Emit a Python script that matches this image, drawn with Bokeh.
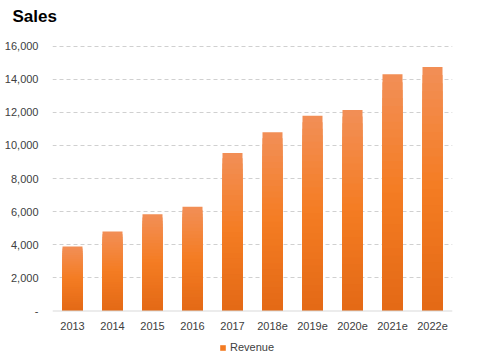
from bokeh.plotting import figure
from bokeh.models import (ColumnDataSource, Range1d, FixedTicker, NumeralTickFormatter,
                          Legend, LegendItem, FactorRange, Span, Title)
from bokeh.core.properties import value
from bokeh.embed import file_html
from bokeh.resources import INLINE

# ---- data ----
years = ["2013", "2014", "2015", "2016", "2017", "2018e", "2019e", "2020e", "2021e", "2022e"]
revenue = [3900, 4800, 5850, 6300, 9550, 10800, 11800, 12150, 14300, 14750]
y_ticks = [0, 2000, 4000, 6000, 8000, 10000, 12000, 14000, 16000]
title_text = "Sales"
series_name = "Revenue"

# gradient stops (bottom -> mid -> top)
c_bottom = (0xE3, 0x69, 0x16)
c_mid = (0xF4, 0x7C, 0x22)
c_top = (0xF2, 0x8F, 0x57)
N_SEG = 30


def grad_color(t):
    if t < 0.5:
        a, b, f = c_bottom, c_mid, t / 0.5
    else:
        a, b, f = c_mid, c_top, (t - 0.5) / 0.5
    r, g, bl = (int(round(a[i] + (b[i] - a[i]) * f)) for i in range(3))
    return "#%02x%02x%02x" % (r, g, bl)


# overlapping layers: full bar (top colour) first, shorter bars (darker) on top
xs, tops, cols = [], [], []
for k in range(N_SEG):
    frac = (N_SEG - k) / N_SEG
    for yr, v in zip(years, revenue):
        xs.append(yr)
        tops.append(v * frac)
        cols.append(grad_color((N_SEG - k - 0.5) / N_SEG))
src = ColumnDataSource(dict(x=xs, top=tops, color=cols))

# the frame also holds the category labels and legend below the zero line
p = figure(x_range=FactorRange(*years), y_range=Range1d(-2930, 16042),
           width=483, height=359, output_backend="svg", toolbar_location=None,
           min_border_left=52, min_border_right=31, min_border_top=45, min_border_bottom=0)
p.outline_line_color = None
p.background_fill_color = "white"
p.border_fill_color = "white"

r = p.vbar(x="x", bottom=0, top="top", width=0.5, source=src,
           fill_color="color", line_color=None)

# zero line (category axis line)
p.add_layout(Span(location=0, dimension="width", line_color="#D9D9D9", line_width=1))

# category labels under the zero line
lab_src = ColumnDataSource(dict(x=years, y=[0] * len(years), text=years))
p.text(x="x", y="y", text="text", source=lab_src, y_offset=15,
       text_align="center", text_baseline="middle",
       text_font=value("Liberation Sans"), text_font_size=value("11px"),
       text_color="#404040")

# title (a tiny spacer title sits between it and the plot area)
p.title.text = title_text
p.title.text_font = "Liberation Sans"
p.title.text_font_size = "17px"
p.title.text_font_style = "bold"
p.title.text_color = "#000000"
p.title.align = "left"
p.title.offset = -40
p.title.standoff = 0
p.add_layout(Title(text=" ", text_font_size="1px", standoff=17), "above")

# y axis
p.yaxis.ticker = FixedTicker(ticks=y_ticks)
p.yaxis.formatter = NumeralTickFormatter(format="0,0")
p.yaxis.major_label_overrides = {0: "-"}
p.yaxis.axis_line_color = None
p.yaxis.major_tick_line_color = None
p.yaxis.minor_tick_line_color = None
p.yaxis.major_tick_out = 0
p.yaxis.major_tick_in = 0
p.yaxis.major_label_standoff = 14
p.yaxis.major_label_text_font = "Liberation Sans"
p.yaxis.major_label_text_font_size = "11px"
p.yaxis.major_label_text_color = "#404040"

# x axis hidden (labels drawn above)
p.xaxis.visible = False

# grid
p.xgrid.grid_line_color = None
p.ygrid.ticker = FixedTicker(ticks=y_ticks[1:])
p.ygrid.grid_line_color = "#D0D0D0"
p.ygrid.grid_line_dash = "4 3"
p.ygrid.grid_line_width = 1

legend = Legend(items=[LegendItem(label=series_name, renderers=[r], index=len(years) * N_SEG // 2)],
                orientation="horizontal", location=(167, 6),
                glyph_width=7, glyph_height=7, label_standoff=4, label_height=11,
                label_text_font="Liberation Sans", label_text_font_size="11px",
                label_text_color="#404040", border_line_color=None,
                background_fill_alpha=0, padding=0, margin=0)
p.add_layout(legend)

open("out.html", "w").write(file_html(p, INLINE))
